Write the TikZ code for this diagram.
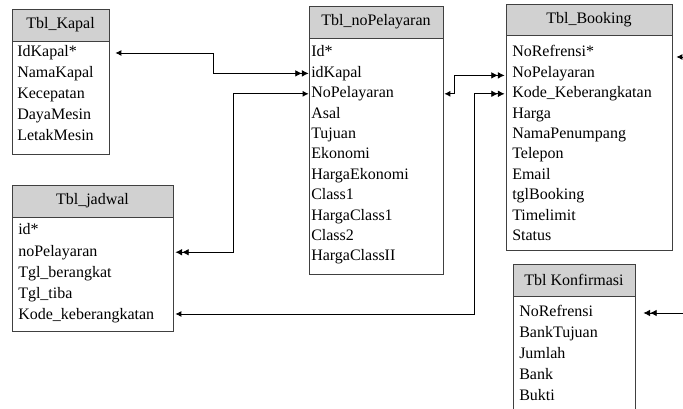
\documentclass[tikz,border=0pt]{standalone}
\usepackage{fontspec}
\setmainfont{Liberation Serif}
\usetikzlibrary{arrows.meta,calc,fit}
\tikzset{
  sgl/.tip={Latex[length=4.5pt,width=4.5pt]},
  dbl/.tip={Latex[length=5pt,width=5pt] Latex[length=5pt,width=5pt]}
}
\begin{document}
\begin{tikzpicture}[x=0.75pt,y=-0.75pt,
  tblhead/.style={draw=black!75, line width=0.6pt, fill=black!18, inner sep=0pt},
  tblbody/.style={draw=black!75, line width=0.6pt, inner sep=0pt},
  title/.style={inner sep=0pt, font=\fontsize{12}{14}\selectfont},
  fld/.style={anchor=west, inner sep=0pt, text height=8.5pt, text depth=2.5pt,
    font=\fontsize{12}{14}\selectfont},
  link/.style={line width=0.65pt}]
\useasboundingbox (0,0) rectangle (683,409);
\clip (0,0) rectangle (683,409);

% Tbl_Kapal
\node[tblhead, fit={(12,9) (109,41)}] (kapalhead) {};
\node[title] (kapaltitle) at (kapalhead.center) {Tbl\_Kapal};
\node[tblbody, fit={(12,41) (109,154)}] (kapal) {};
\foreach \t [count=\i] in {IdKapal*, NamaKapal, Kecepatan, DayaMesin, LetakMesin}
  \node[fld] (k\i) at (17,{53+21*(\i-1)}) {\t};

% Tbl_noPelayaran
\node[tblhead, fit={(309,6) (443,38)}] (nphead) {};
\node[title] (nptitle) at (nphead.center) {Tbl\_noPelayaran};
\node[tblbody, fit={(309,38) (443,274)}] (np) {};
\foreach \t [count=\i] in {Id*, idKapal, NoPelayaran, Asal, Tujuan, Ekonomi,
    HargaEkonomi, Class1, HargaClass1, Class2, HargaClassII}
  \node[fld] (np\i) at (311,{53+20.4*(\i-1)}) {\t};

% Tbl_Booking
\node[tblhead, fit={(506,4) (672,35)}] (bkhead) {};
\node[title] (bktitle) at (bkhead.center) {Tbl\_Booking};
\node[tblbody, fit={(506,35) (672,250)}] (bk) {};
\foreach \t [count=\i] in {NoRefrensi*, NoPelayaran, Kode\_Keberangkatan, Harga,
    NamaPenumpang, Telepon, Email, tglBooking, Timelimit, Status}
  \node[fld] (bk\i) at (512,{53+20.4*(\i-1)}) {\t};

% Tbl_jadwal
\node[tblhead, fit={(12,185) (173,217)}] (jdhead) {};
\node[title] (jdtitle) at (jdhead.center) {Tbl\_jadwal};
\node[tblbody, fit={(12,217) (173,331)}] (jd) {};
\foreach \t [count=\i] in {id*, noPelayaran, Tgl\_berangkat, Tgl\_tiba, Kode\_keberangkatan}
  \node[fld] (jd\i) at (18,{231+21.25*(\i-1)}) {\t};

% Tbl Konfirmasi
\node[tblhead, fit={(513,264) (635,296)}] (kfhead) {};
\node[title] (kftitle) at (kfhead.center) {Tbl Konfirmasi};
\node[tblbody, fit={(513,296) (635,420)}] (kf) {};
\foreach \t [count=\i] in {NoRefrensi, BankTujuan, Jumlah, Bank, Bukti}
  \node[fld] (kf\i) at (519,{313+21*(\i-1)}) {\t};

% relations
\draw[link, sgl-dbl] ($(kapal.east |- k1)+(6,0)$) -- (213,0 |- k1)
  -- (213,0 |- np2) -- (np.west |- np2);
\draw[link, dbl-sgl] ($(jd.east |- jd2)+(2,0)$) -- (233,0 |- jd2)
  -- (233,0 |- np3) -- (np.west |- np3);
\draw[link, sgl-dbl] ($(np.east |- np3)+(1,0)$) -- (454,0 |- np3)
  -- ($(454,0 |- bk2)+(0,2)$) -- ($(bk.west |- bk2)+(-1,2)$);
\draw[link, sgl-dbl] ($(jd.east |- jd5)+(2,-2)$) -- ($(474,0 |- jd5)+(0,-2)$)
  -- (474,0 |- bk3) -- ($(bk.west |- bk3)+(-1,0)$);
\coordinate (edgeA) at ($(695,0 |- bk1)+(0,4)$);
\coordinate (edgeB) at (695,0 |- kf1);
\draw[link, sgl-dbl] ($(bk.east |- bk1)+(4,4)$) -- (edgeA) -- (edgeB)
  -- ($(kf.east |- kf1)+(8,0)$);
\end{tikzpicture}
\end{document}
